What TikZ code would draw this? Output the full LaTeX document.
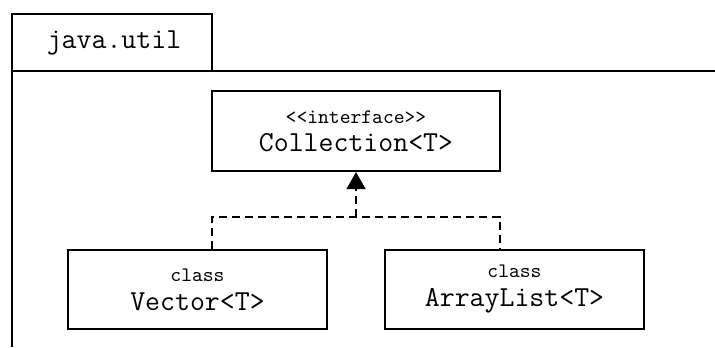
\documentclass[tikz,border=0pt]{standalone}
\usepackage{fontspec}
\usetikzlibrary{arrows.meta}

\newcommand{\bigtt}{\ttfamily\fontsize{14.5}{15}\selectfont}
\newcommand{\smalltt}{\ttfamily\fontsize{10.3}{11}\selectfont}

\tikzset{
  umlbox/.style={draw, line width=1.1pt, inner sep=0pt, align=center,
                 minimum width=129.5pt, minimum height=39.5pt},
  pkgline/.style={line width=1.1pt},
  realizes/.style={line width=0.8pt, dash pattern=on 4pt off 2.5pt},
}

\begin{document}
\begin{tikzpicture}[x=0.5pt, y=-0.5pt]
  \useasboundingbox (0,0) rectangle (715,347);

  % Drawing package frame
  \draw [pkgline] (12,347) -- (12,14) -- (212,14) -- (212,71);%
  \draw [pkgline] (12,71) -- (715,71);%
  \node (pkg) at (114,43) {\bigtt java.util};%

  % Interface box
  \node [umlbox, minimum width=144pt, minimum height=40pt] (iface) at (356,131)
    {\smalltt <{}<interface>{}>\\[2pt] \bigtt Collection<T>};%

  % Class boxes
  \node [umlbox] (vec) at (197.5,289.5)
    {\smalltt class\\[2.5pt] \bigtt Vector<T>};%
  \node [umlbox] (alist) at (514.5,289.5)
    {\smalltt class\\[2.5pt] \bigtt ArrayList<T>};%

  % Drawing realization
  \coordinate (join) at (356,217);%
  \coordinate (vleg) at (212,0);%
  \coordinate (aleg) at (500,0);%
  \draw [realizes] (vec.north -| vleg) |- (join) -| (alist.north -| aleg);%
  \draw [realizes, -{Triangle[length=8.5pt, width=9.5pt]}] (join) -- (iface.south);%
\end{tikzpicture}
\end{document}
